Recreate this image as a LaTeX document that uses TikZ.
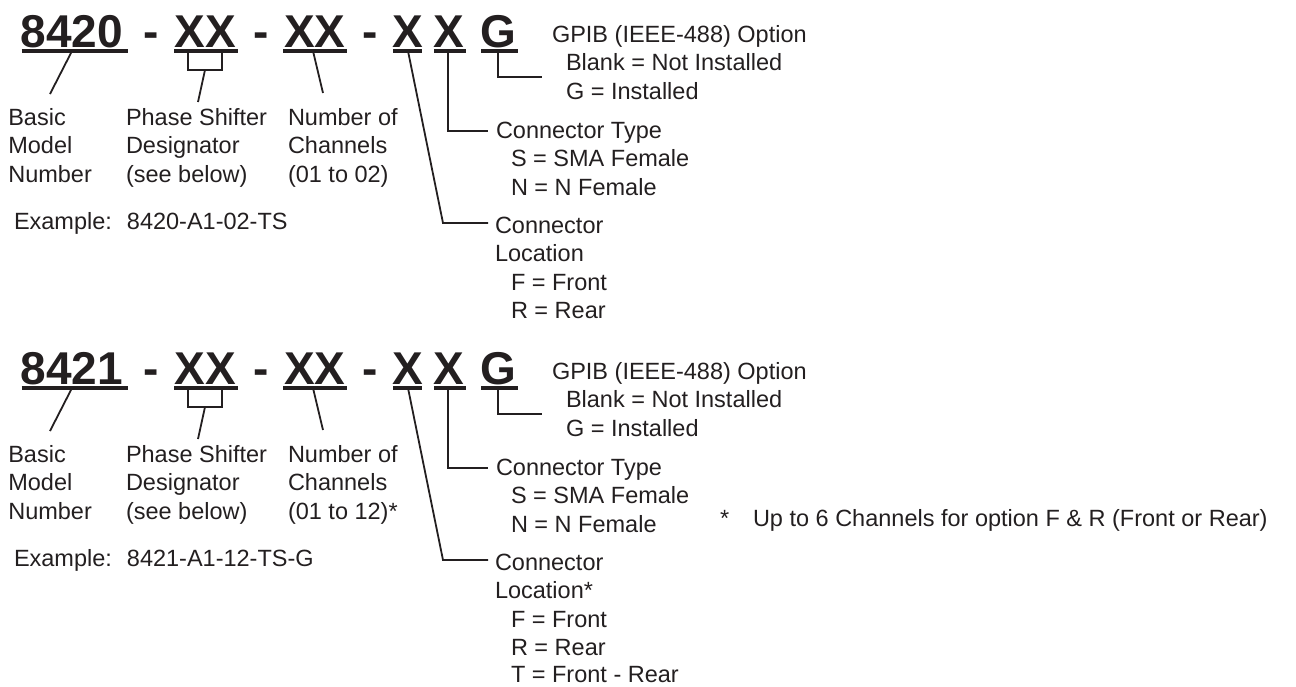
\documentclass[tikz,border=0pt]{standalone}
\usepackage{fontspec}
\setmainfont{Liberation Sans}
\definecolor{ink}{RGB}{35,31,32}
\tikzset{
  txt/.style={anchor=base west, inner sep=0pt, outer sep=0pt, text=ink, font=\fontsize{23.5}{28}\selectfont},
  big/.style={anchor=base west, inner sep=0pt, outer sep=0pt, text=ink, font=\fontsize{46}{50}\selectfont\bfseries},
  ul/.style={draw=ink, line width=4pt},
  lead/.style={draw=ink, line width=1.8pt, line join=miter},
}
\newcommand\pnrow[5]{%
  \node[big] (#1model) at (20.5,47) {#2};
  \node[big] (#1da) at (143,47) {-};
  \node[big] (#1ps) at (174.5,47) {XX};
  \node[big] (#1db) at (253,47) {-};
  \node[big] (#1ch) at (284,47) {XX};
  \node[big] (#1dc) at (362,47) {-};
  \node[big] (#1loc) at (392.5,47) {X};
  \node[big] (#1typ) at (433.5,47) {X};
  \node[big] (#1gp) at (480,47) {G};
  \draw[ul] (21.7,51) -- (128,51);
  \draw[ul] (174,51) -- (238,51);
  \draw[ul] (283,51) -- (347,51);
  \draw[ul] (393,51) -- (422,51);
  \draw[ul] (434,51) -- (466,51);
  \draw[ul] (481,51) -- (518,51);
  % left labels
  \foreach \t [count=\i from 0] in {Basic,Model,Number}
    \node[txt] (#1bm\i) at (8.3,{125+28.6*\i}) {\t};
  \foreach \t [count=\i from 0] in {Phase Shifter,Designator,(see below)}
    \node[txt] (#1pd\i) at (126,{125+28.6*\i}) {\t};
  \foreach \t [count=\i from 0] in {Number of,Channels,#3}
    \node[txt] (#1nc\i) at (288,{125+28.6*\i}) {\t};
  \node[txt] (#1ex) at (14,229) {Example:\hspace{15pt}#5};
  % right labels
  \node[txt] (#1gpib) at (552,42) {GPIB (IEEE-488) Option};
  \node[txt] (#1gb) at (566,70.5) {Blank = Not Installed};
  \node[txt] (#1gi) at (566,99) {G = Installed};
  \node[txt] (#1ct) at (496,138) {Connector Type};
  \node[txt] (#1cs) at (511,166.5) {S = SMA Female};
  \node[txt] (#1cn) at (511,195) {N = N Female};
  \node[txt] (#1cl) at (495,233) {Connector};
  \node[txt] (#1cl2) at (495,261.5) {#4};
  \node[txt] (#1cf) at (511,290) {F = Front};
  \node[txt] (#1cr) at (511,318.5) {R = Rear};
  % leaders
  \coordinate (#1ma) at (72,51);
  \coordinate (#1mb) at (50,94);
  \draw[lead] (#1ma) -- (#1mb);
  \draw[lead] (188,51) -- (188,70) -- (222,70) -- (222,51);
  \coordinate (#1pa) at (205,70);
  \coordinate (#1pb) at (198,102);
  \draw[lead] (#1pa) -- (#1pb);
  \coordinate (#1na) at (313,51);
  \coordinate (#1nb) at (323,93);
  \draw[lead] (#1na) -- (#1nb);
  \draw[lead] (408,51) -- (443,223) -- (488,223);
  \draw[lead] (448,51) -- (448,131) -- (488,131);
  \draw[lead] (498,51) -- (498,77) -- (542,77);
}
\begin{document}
\begin{tikzpicture}[x=1pt,y=-1pt]
  \path[use as bounding box] (0,0) rectangle (1296,686);
  \pnrow{a}{8420}{(01 to 02)}{Location}{8420-A1-02-TS}
  \begin{scope}[yshift=-337pt]
    \pnrow{b}{8421}{(01 to 12)*}{Location*}{8421-A1-12-TS-G}
    \node[txt] (bct2) at (511,345.5) {T = Front - Rear};
  \end{scope}
  \node[txt] (star) at (720,526) {*};
  \node[txt] (foot) at (753,526) {Up to 6 Channels for option F \& R (Front or Rear)};
\end{tikzpicture}
\end{document}
